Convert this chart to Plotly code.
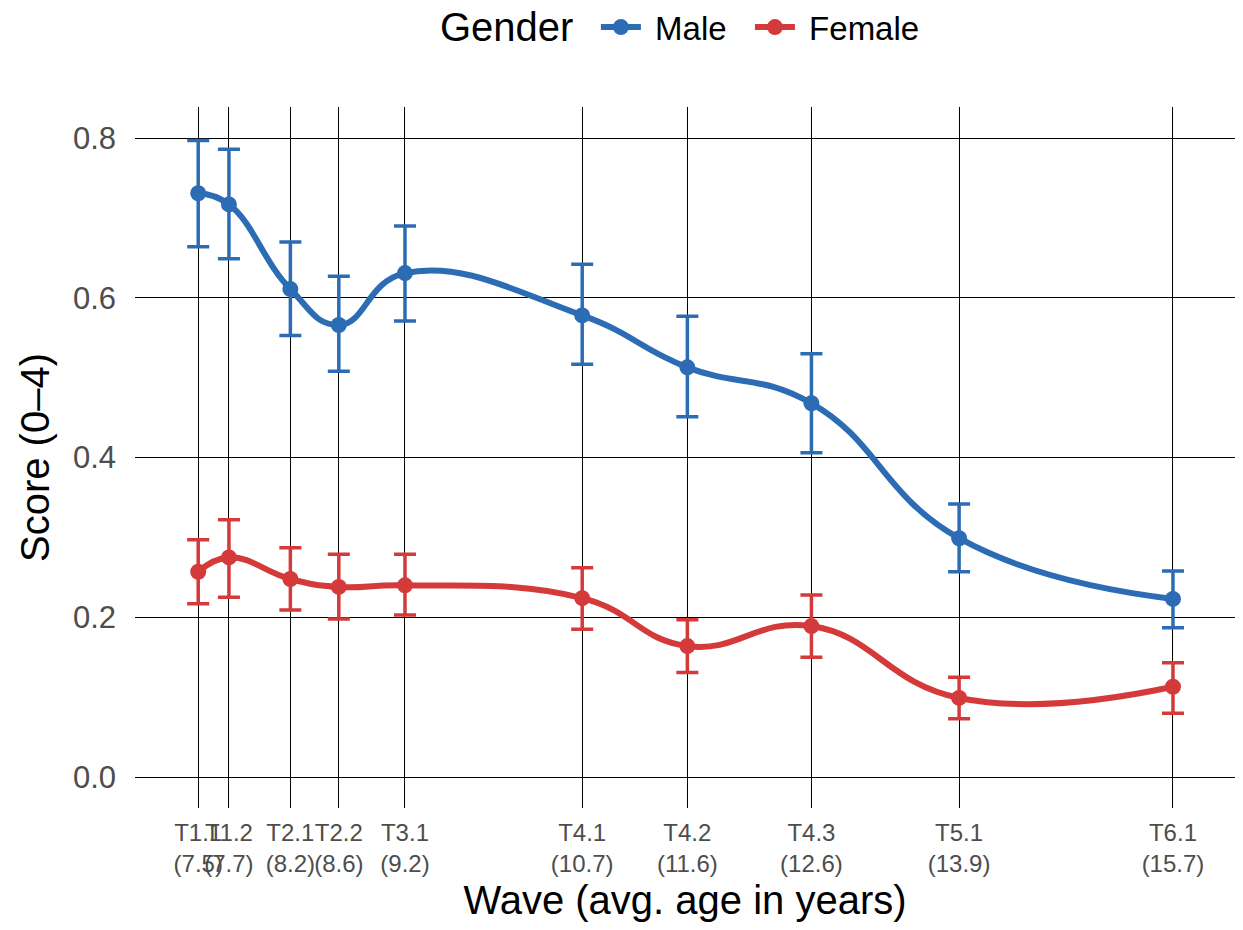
import plotly.graph_objects as go

waves = ["T1.1", "T1.2", "T2.1", "T2.2", "T3.1", "T4.1", "T4.2", "T4.3", "T5.1", "T6.1"]
ages = [7.45, 7.71, 8.23, 8.64, 9.2, 10.7, 11.59, 12.64, 13.89, 15.7]
age_labels = ["7.5", "7.7", "8.2", "8.6", "9.2", "10.7", "11.6", "12.6", "13.9", "15.7"]

male_mean = [0.731, 0.717, 0.611, 0.566, 0.631, 0.578, 0.513, 0.468, 0.299, 0.223]
male_upper = [0.797, 0.786, 0.670, 0.627, 0.690, 0.642, 0.577, 0.530, 0.342, 0.258]
male_lower = [0.664, 0.649, 0.553, 0.508, 0.571, 0.517, 0.451, 0.406, 0.257, 0.187]

female_mean = [0.257, 0.275, 0.248, 0.238, 0.240, 0.224, 0.164, 0.189, 0.099, 0.113]
female_upper = [0.297, 0.322, 0.287, 0.279, 0.279, 0.262, 0.197, 0.228, 0.125, 0.143]
female_lower = [0.217, 0.225, 0.209, 0.198, 0.203, 0.185, 0.131, 0.150, 0.073, 0.080]

y_ticks = [0.0, 0.2, 0.4, 0.6, 0.8]

BLUE = "#2c6cb4"
RED = "#d43a3a"
FONT = "Liberation Sans, Arial, sans-serif"
NB = "\u00a0"

ticktext = [f"{w}<br>({a})" for w, a in zip(waves, age_labels)]

fig = go.Figure()


def add_series(name, mean, upper, lower, color):
    plus = [u - m for u, m in zip(upper, mean)]
    minus = [m - l for m, l in zip(mean, lower)]
    fig.add_trace(go.Scatter(
        x=ages, y=mean, name=NB + name + NB + NB, mode="lines+markers",
        line=dict(color=color, width=6, shape="spline", smoothing=1.3),
        marker=dict(color=color, size=16),
        error_y=dict(type="data", symmetric=False, array=plus, arrayminus=minus,
                     color=color, thickness=3.5, width=11),
    ))


add_series("Male", male_mean, male_upper, male_lower, BLUE)
add_series("Female", female_mean, female_upper, female_lower, RED)

fig.update_layout(
    width=1227, height=914,
    paper_bgcolor="white", plot_bgcolor="white",
    margin=dict(l=127, r=0, t=99, b=114, autoexpand=False),
    font=dict(family=FONT, color="black"),
    showlegend=True,
    legend=dict(
        orientation="h", x=0.419, xanchor="left", y=1.114, yanchor="middle",
        font=dict(size=33, family=FONT, color="black"),
        itemwidth=40,
    ),
    annotations=[dict(
        text="Gender", xref="paper", yref="paper", x=0.4, y=1.114,
        xanchor="right", yanchor="middle", showarrow=False,
        font=dict(size=40, family=FONT, color="black"),
    )],
)

fig.update_xaxes(
    range=[6.915, 16.225],
    tickmode="array", tickvals=ages, ticktext=ticktext, tickangle=0,
    tickfont=dict(size=24, color="#4d4d4d", family=FONT),
    showgrid=True, gridcolor="black", gridwidth=1,
    zeroline=False, showline=False, ticks="",
    ticklabelstandoff=8,
    title=dict(text="Wave (avg. age in years)", font=dict(size=40, color="black", family=FONT), standoff=12),
    automargin=True,
)
fig.update_yaxes(
    range=[-0.0388, 0.839],
    tickmode="array", tickvals=y_ticks, ticktext=[f"{v:.1f}" for v in y_ticks],
    tickfont=dict(size=31, color="#4d4d4d", family=FONT),
    showgrid=True, gridcolor="black", gridwidth=1,
    zeroline=False, showline=False, ticks="",
    ticklabelstandoff=18,
    title=dict(text="Score (0–4)", font=dict(size=40, color="black", family=FONT), standoff=10),
    automargin=False,
)

fig.write_html("out.html")
